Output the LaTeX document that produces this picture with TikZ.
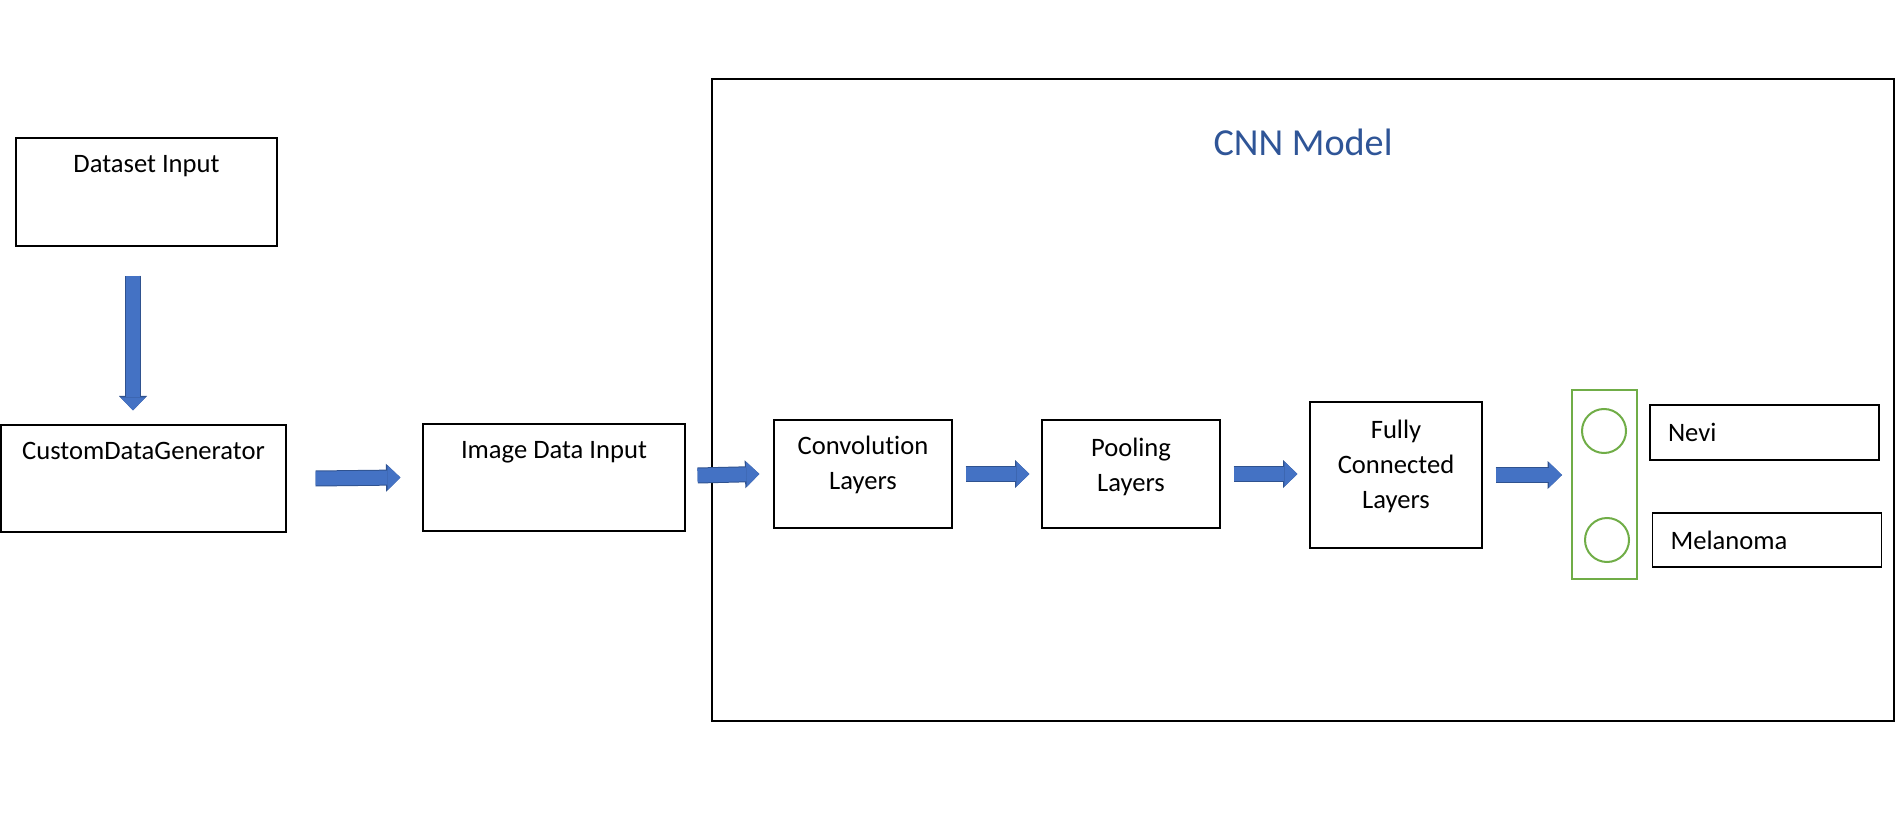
\documentclass[tikz,border=0pt]{standalone}
\usepackage{fontspec}
\setmainfont{Carlito}[Ligatures=NoCommon]
\usepackage{tikz}
\usetikzlibrary{arrows.meta}

\definecolor{arrowfill}{HTML}{4472C4}
\definecolor{arrowline}{HTML}{2F528F}
\definecolor{titleblue}{HTML}{2F5597}
\definecolor{outgreen}{HTML}{70AD47}

\tikzset{
    box/.style={draw, line width=0.6pt, rectangle, inner sep=0pt},
    boxtext/.style={font=\fontsize{13.3}{17.5}\selectfont, align=center, anchor=base, yshift=-17.5pt},
    flow/.style={line width=7pt, draw=arrowfill,
        -{Triangle[width=12.5pt,length=6.5pt,line width=0pt]},
        preaction={draw=arrowline, line width=8pt, -{Triangle[width=14pt,length=7.2pt,line width=0pt]}}},
    neuron/.style={draw=outgreen, line width=1pt, circle, minimum size=22pt, inner sep=0pt},
    classbox/.style={box, text width=96.5pt, inner xsep=9pt, align=left, font=\fontsize{13.3}{16}\selectfont}
}

\begin{document}
\begin{tikzpicture}[x=0.5pt, y=-0.5pt]
        \useasboundingbox (0,0) rectangle (1900,828);
        % input side
        \node[box, minimum width=130.5pt, minimum height=54pt,
            label={[boxtext]north:Dataset Input}] (ds) at (146.5,192) {};
        \node[box, minimum width=142.5pt, minimum height=53.5pt,
            label={[boxtext]north:CustomDataGenerator}] (gen) at (143.5,478.5) {};
        \node[box, minimum width=131pt, minimum height=53.5pt,
            label={[boxtext]north:Image Data Input}] (img) at (554,477.5) {};
        % model
        \node[box, minimum width=591pt, minimum height=321pt] (cnn) at (1303,400) {};
        \node[font=\fontsize{19.1}{23}\selectfont, text=titleblue] (cnntitle) at (1303,142) {CNN Model};
        \node[box, minimum width=89pt, minimum height=54pt,
            label={[boxtext, yshift=-17.5pt]north:Convolution\\Layers}] (conv) at (863,474) {};
        \node[box, minimum width=89pt, minimum height=54pt,
            label={[boxtext, yshift=-18.5pt]north:Pooling\\Layers}] (pool) at (1131,474) {};
        \node[box, minimum width=86pt, minimum height=73pt,
            label={[boxtext, yshift=-36pt]north:Fully\\Connected\\Layers}] (fc) at (1396,475) {};
        % output layer
        \node[draw=outgreen, line width=1pt, minimum width=32.5pt, minimum height=94.5pt] (out) at (1604.5,484.5) {};
        \node[neuron] (n1) at (1604,431) {};
        \node[neuron] (n2) at (1607,540) {};
        \node[classbox, minimum height=27.5pt] (nevi) at (1764.5,432.5) {Nevi};
        \node[classbox, minimum height=27pt] (mel) at (1767,540) {Melanoma};
        % arrows
        \draw[flow] ([xshift=-6.75pt, yshift=-14.5pt]ds.south) -- ([xshift=-6.75pt, yshift=7pt]ds.south |- gen.north);
        \draw[flow] ([xshift=14.5pt]gen.east) -- ([xshift=-11pt]img.west);
        \draw[flow] ([xshift=6pt, yshift=1pt]img.east) -- ([xshift=-7pt]conv.west);
        \foreach \a/\b in {conv/pool, pool/fc}
            \draw[flow] ([xshift=6.5pt]\a.east) -- ([xshift=-6pt]\a.east -| \b.west);
        \draw[flow] ([xshift=6.5pt]fc.east) -- ([xshift=-4.5pt]fc.east -| out.west);
    \end{tikzpicture}
\end{document}
